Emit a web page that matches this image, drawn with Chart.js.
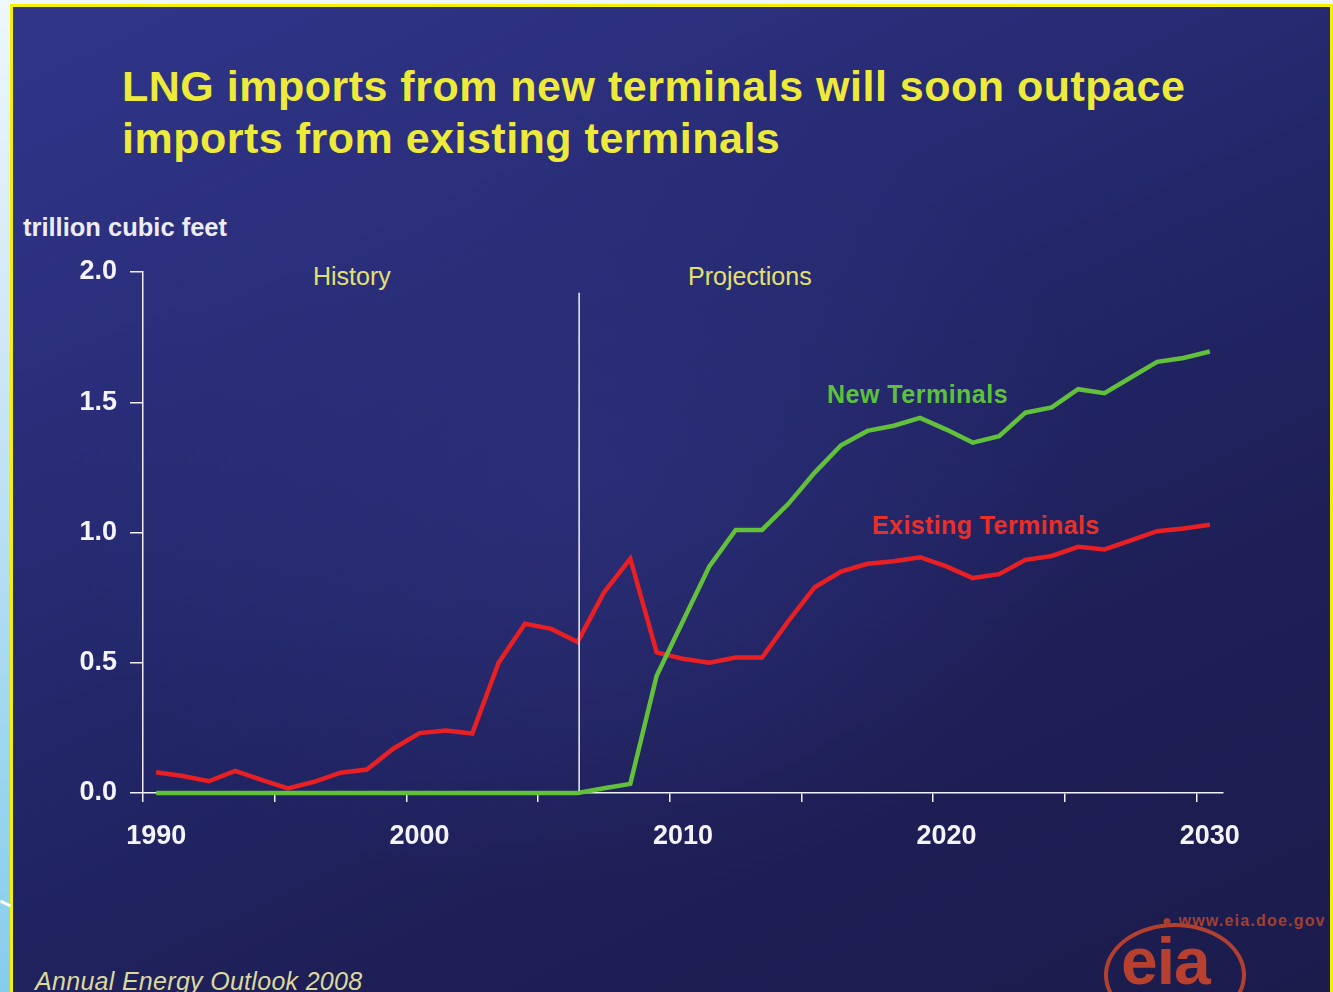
<!DOCTYPE html>
<html>
<head>
<meta charset="utf-8">
<script src="https://cdn.jsdelivr.net/npm/chart.js@4"></script>
<style>
  html,body{margin:0;padding:0;}
  body{width:1333px;height:992px;overflow:hidden;position:relative;font-family:"Liberation Sans",Arial,sans-serif;
    background:linear-gradient(to bottom,#eef7fc 0%,#cfe7f6 35%,#9ed6ef 75%,#86cdec 100%);}
  .slide{position:absolute;left:10px;top:4px;width:1317px;height:1000px;border:3px solid #f4f000;border-bottom:none;overflow:hidden;
    background:
      radial-gradient(ellipse 520px 420px at 560px 470px,rgba(48,52,130,0.55),rgba(48,52,130,0) 100%),
      linear-gradient(155deg,#30358a 0%,#2a2e7a 25%,#23276a 45%,#1e1f56 70%,#1b1b4c 100%);}
  .txt{position:absolute;white-space:nowrap;line-height:1;}
  .title{left:122px;top:60px;font-size:43px;font-weight:bold;color:#eeea3a;line-height:52px;letter-spacing:0.5px;}
  .unit{left:23px;top:215px;font-size:25.5px;font-weight:bold;color:#ececf4;}
  .hist{top:264px;font-size:25px;color:#e4e070;}
  .newt{left:827px;top:382px;font-size:25px;font-weight:bold;color:#5cc23c;letter-spacing:0.5px;}
  .exist{left:872px;top:513px;font-size:25px;font-weight:bold;color:#e83028;letter-spacing:0.4px;}
  .foot{left:35px;top:969px;font-size:25px;font-style:italic;color:#dcd99e;letter-spacing:0.3px;}
  .logo{position:absolute;left:1104px;top:923px;width:134px;height:96px;border:4px solid #b3402e;border-radius:50%;}
  .logotxt{left:1121px;top:928px;font-size:66px;font-weight:bold;color:#b8402e;letter-spacing:-1px;}
  .url{left:1162px;top:913px;font-size:16px;font-weight:bold;color:#a3402f;letter-spacing:1.2px;}
  #wrap{position:absolute;left:0;top:0;width:1333px;height:992px;}
</style>
</head>
<body>
<div class="slide"></div>
<div style="position:absolute;left:0;top:902px;width:11px;height:3px;background:#fff;transform:rotate(25deg);"></div>
<div class="txt title">LNG imports from new terminals will soon outpace<br>imports from existing terminals</div>
<div class="txt unit">trillion cubic feet</div>
<div class="txt hist" style="left:313px;">History</div>
<div class="txt hist" style="left:688px;">Projections</div>
<div class="txt newt">New Terminals</div>
<div class="txt exist">Existing Terminals</div>
<div class="txt foot">Annual Energy Outlook 2008</div>
<div class="logo"></div>
<div class="txt logotxt">eia</div>
<div class="txt url">&#9679; www.eia.doe.gov</div>
<div id="wrap"><canvas id="chart"></canvas></div>
<script>
const years = ['1990','1991','1992','1993','1994','1995','1996','1997','1998','1999',
  '2000','2001','2002','2003','2004','2005','2006','2007','2008','2009',
  '2010','2011','2012','2013','2014','2015','2016','2017','2018','2019',
  '2020','2021','2022','2023','2024','2025','2026','2027','2028','2029','2030'];
const existingTerminals = [0.08,0.065,0.045,0.085,0.05,0.018,0.043,0.078,0.09,0.17,
  0.23,0.24,0.228,0.50,0.65,0.63,0.58,0.77,0.90,0.54,
  0.515,0.50,0.52,0.52,0.66,0.79,0.85,0.88,0.89,0.905,
  0.87,0.825,0.84,0.895,0.91,0.945,0.935,0.97,1.005,1.015,1.03];
const newTerminals = [0,0,0,0,0,0,0,0,0,0,
  0,0,0,0,0,0,0,0.018,0.035,0.45,
  0.66,0.87,1.01,1.01,1.11,1.23,1.335,1.39,1.41,1.44,
  1.395,1.345,1.37,1.46,1.48,1.55,1.535,1.595,1.655,1.67,1.695];
const xTickLabels = ['1990','2000','2010','2020','2030'];
const yTickLabels = ['0.0','0.5','1.0','1.5','2.0'];
const lastHistoryYear = '2006';

const dividerLine = {
  id:'dividerLine',
  afterDatasetsDraw(chart){
    const {ctx, scales:{x,y}} = chart;
    const px = x.getPixelForValue(years.indexOf(lastHistoryYear)) + 1.5;
    ctx.save();
    ctx.strokeStyle = '#f0f0f6';
    ctx.lineWidth = 1.5;
    ctx.beginPath();
    ctx.moveTo(px, y.getPixelForValue(1.92));
    ctx.lineTo(px, y.getPixelForValue(0) - 2);
    ctx.stroke();
    ctx.restore();
  }
};

new Chart(document.getElementById('chart'), {
  type:'line',
  data:{
    labels:years,
    datasets:[
      {label:'New Terminals',data:newTerminals,borderColor:'#62c03a',borderWidth:4.5,pointRadius:0,tension:0,clip:false},
      {label:'Existing Terminals',data:existingTerminals,borderColor:'#e82024',borderWidth:4.5,pointRadius:0,tension:0,clip:false}
    ]
  },
  options:{
    responsive:true,
    maintainAspectRatio:false,
    animation:false,
    layout:{padding:{left:63,right:110,top:272,bottom:139}},
    plugins:{legend:{display:false},tooltip:{enabled:false}},
    scales:{
      x:{
        type:'category',
        offset:true,
        grid:{offset:true,drawOnChartArea:false,drawTicks:true,tickLength:9,lineWidth:1.5,
          color:ctx => (ctx.index !== undefined && ctx.index % 5 === 0) ? '#f0f0f6' : 'rgba(0,0,0,0)'},
        border:{display:true,color:'#f0f0f6',width:1.5},
        ticks:{autoSkip:false,maxRotation:0,minRotation:0,padding:18,color:'#f4f4f8',
          font:{family:'"Liberation Sans", Arial, sans-serif',size:27,weight:'bold'},
          callback:(v,i) => xTickLabels.includes(years[i]) ? years[i] : ''},
        afterFit:s => { s.height = 60; }
      },
      y:{
        min:0,max:2,
        grid:{drawOnChartArea:false,drawTicks:true,tickLength:13,lineWidth:1.5,color:'#f0f0f6'},
        border:{display:true,color:'#f0f0f6',width:1.5},
        ticks:{stepSize:0.5,padding:13,color:'#f4f4f8',
          font:{family:'"Liberation Sans", Arial, sans-serif',size:27,weight:'bold'},
          callback:(v,i) => yTickLabels[i]},
        afterFit:s => { s.width = 80; }
      }
    }
  },
  plugins:[dividerLine]
});
</script>
</body>
</html>
